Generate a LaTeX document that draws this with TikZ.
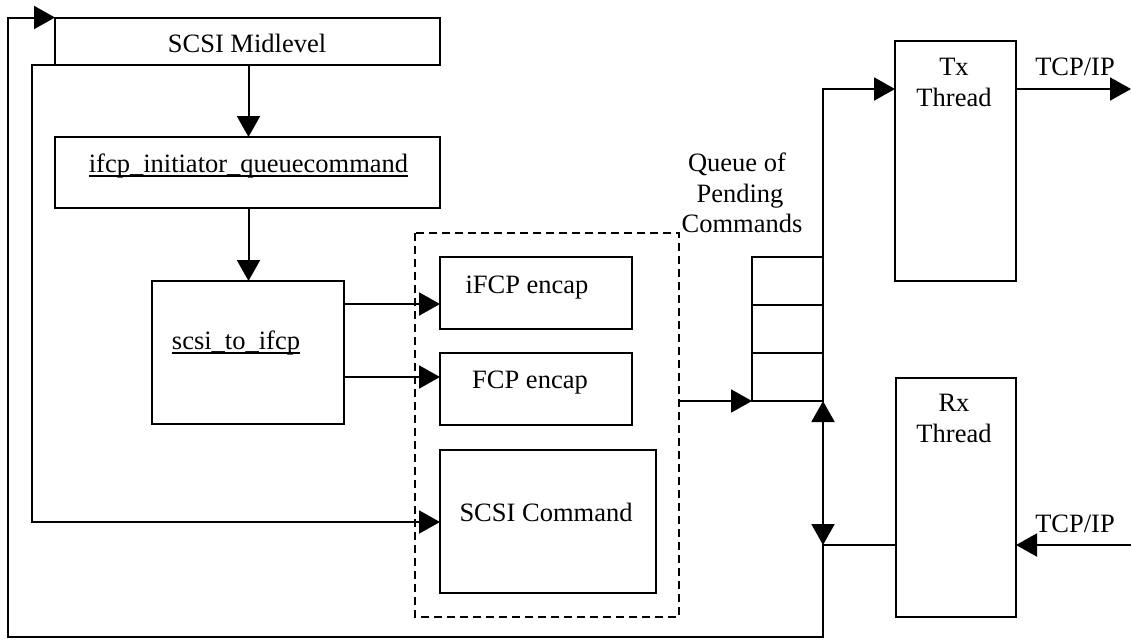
\documentclass[tikz,border=0pt]{standalone}
\usepackage{fontspec}
\setmainfont{Liberation Serif}
\usetikzlibrary{arrows.meta}
% underline sitting just below the baseline
\newcommand\lowline[1]{\setbox0\hbox{#1}\rlap{\rule[-5pt]{\wd0}{1.8pt}}\box0}
\begin{document}
\begin{tikzpicture}[x=1pt,y=-1pt,
  line width=2pt,
  every node/.style={inner sep=0pt,outer sep=0pt},
  box/.style={draw,rectangle,anchor=north west},
  lbl/.style={anchor=base,font=\fontsize{26.5}{30.5}\selectfont},
  group/.style={draw,dash pattern=on 8pt off 5pt,line width=1.8pt},
  tip/.tip={Triangle[length=21pt,width=23pt]},
  arr/.style={-tip},
  darr/.style={tip-tip}]
\useasboundingbox (0,0) rectangle (1131,641);

% processing boxes
\node[box,minimum width=385pt,minimum height=47pt] (mid) at (55,17.5) {};
\node[box,minimum width=385pt,minimum height=71pt] (init) at (55,137) {};
\node[box,minimum width=192pt,minimum height=143pt] (s2i) at (152,281) {};
\node[box,minimum width=192pt,minimum height=72pt] (ifcp) at (440,257) {};
\node[box,minimum width=192pt,minimum height=72pt] (fcp) at (440,353) {};
\node[box,minimum width=216pt,minimum height=143pt] (scmd) at (440,450) {};
\draw[group] (415,233) rectangle (679,617);
\coordinate (grp) at (679,401);

% pending queue
\node[box,minimum width=71pt,minimum height=144pt] (queue) at (752,257) {};
\draw (752,305) -- (823,305);
\draw (752,353) -- (823,353);

% threads
\node[box,minimum width=121pt,minimum height=240pt] (tx) at (895,41) {};
\node[box,minimum width=120pt,minimum height=239pt] (rx) at (896,378) {};

% labels
\node[lbl] (tmid) at (247,52) {SCSI Midlevel};
\node[lbl] (tinit) at (248.5,172) {\lowline{ifcp\_initiator\_queuecommand}};
\node[lbl] (ts2i) at (236,349) {\lowline{scsi\_to\_ifcp}};
\node[lbl] (tifcp) at (527,293) {iFCP encap};
\node[lbl] (tfcp) at (530,388) {FCP encap};
\node[lbl] (tscmd) at (546,521) {SCSI Command};
\node[lbl] (tq1) at (737,171) {Queue of};
\node[lbl] (tq2) at (740,202) {Pending};
\node[lbl] (tq3) at (742,232) {Commands};
\node[lbl] (ttx1) at (954,75) {Tx};
\node[lbl] (ttx2) at (954,106) {Thread};
\node[lbl] (trx1) at (954,411) {Rx};
\node[lbl] (trx2) at (954,442) {Thread};
\node[lbl] (tout) at (1075,75) {TCP/IP};
\node[lbl] (tin) at (1075,532) {TCP/IP};

% connectors
\coordinate (outR) at (1131,89);
\coordinate (inR) at (1131,545);
\coordinate (join) at (823,545);
\coordinate (bot) at (823,637);
\coordinate (botL) at (8,637);
\coordinate (topL) at (8,17.5);
\coordinate (innerL) at (32,64.5);

\draw[arr] (mid.south -| tinit) -- (init.north -| tinit);
\draw[arr] (init.south -| tinit) -- (s2i.north -| tinit);
\draw[arr] (s2i.east |- 0,304) -- (ifcp.west |- 0,304);
\draw[arr] (s2i.east |- 0,377) -- (fcp.west |- 0,377);
\draw[arr] (grp) -- (queue.south west);
\draw[arr] (queue.south east) -- (queue.south east |- 0,89) -- (tx.west |- 0,89);
\draw[arr] (tx.east |- outR) -- (outR);
\draw[arr] (inR) -- (rx.east |- inR);
\draw[arr] (rx.west |- join) -- (join) -- (bot) -- (botL) -- (topL) -- (mid.north west);
\draw[darr] (queue.south east) -- (join);
\draw[arr] (mid.south west) -- (innerL) -- (innerL |- 0,522) -- (scmd.west |- 0,522);
\end{tikzpicture}
\end{document}
